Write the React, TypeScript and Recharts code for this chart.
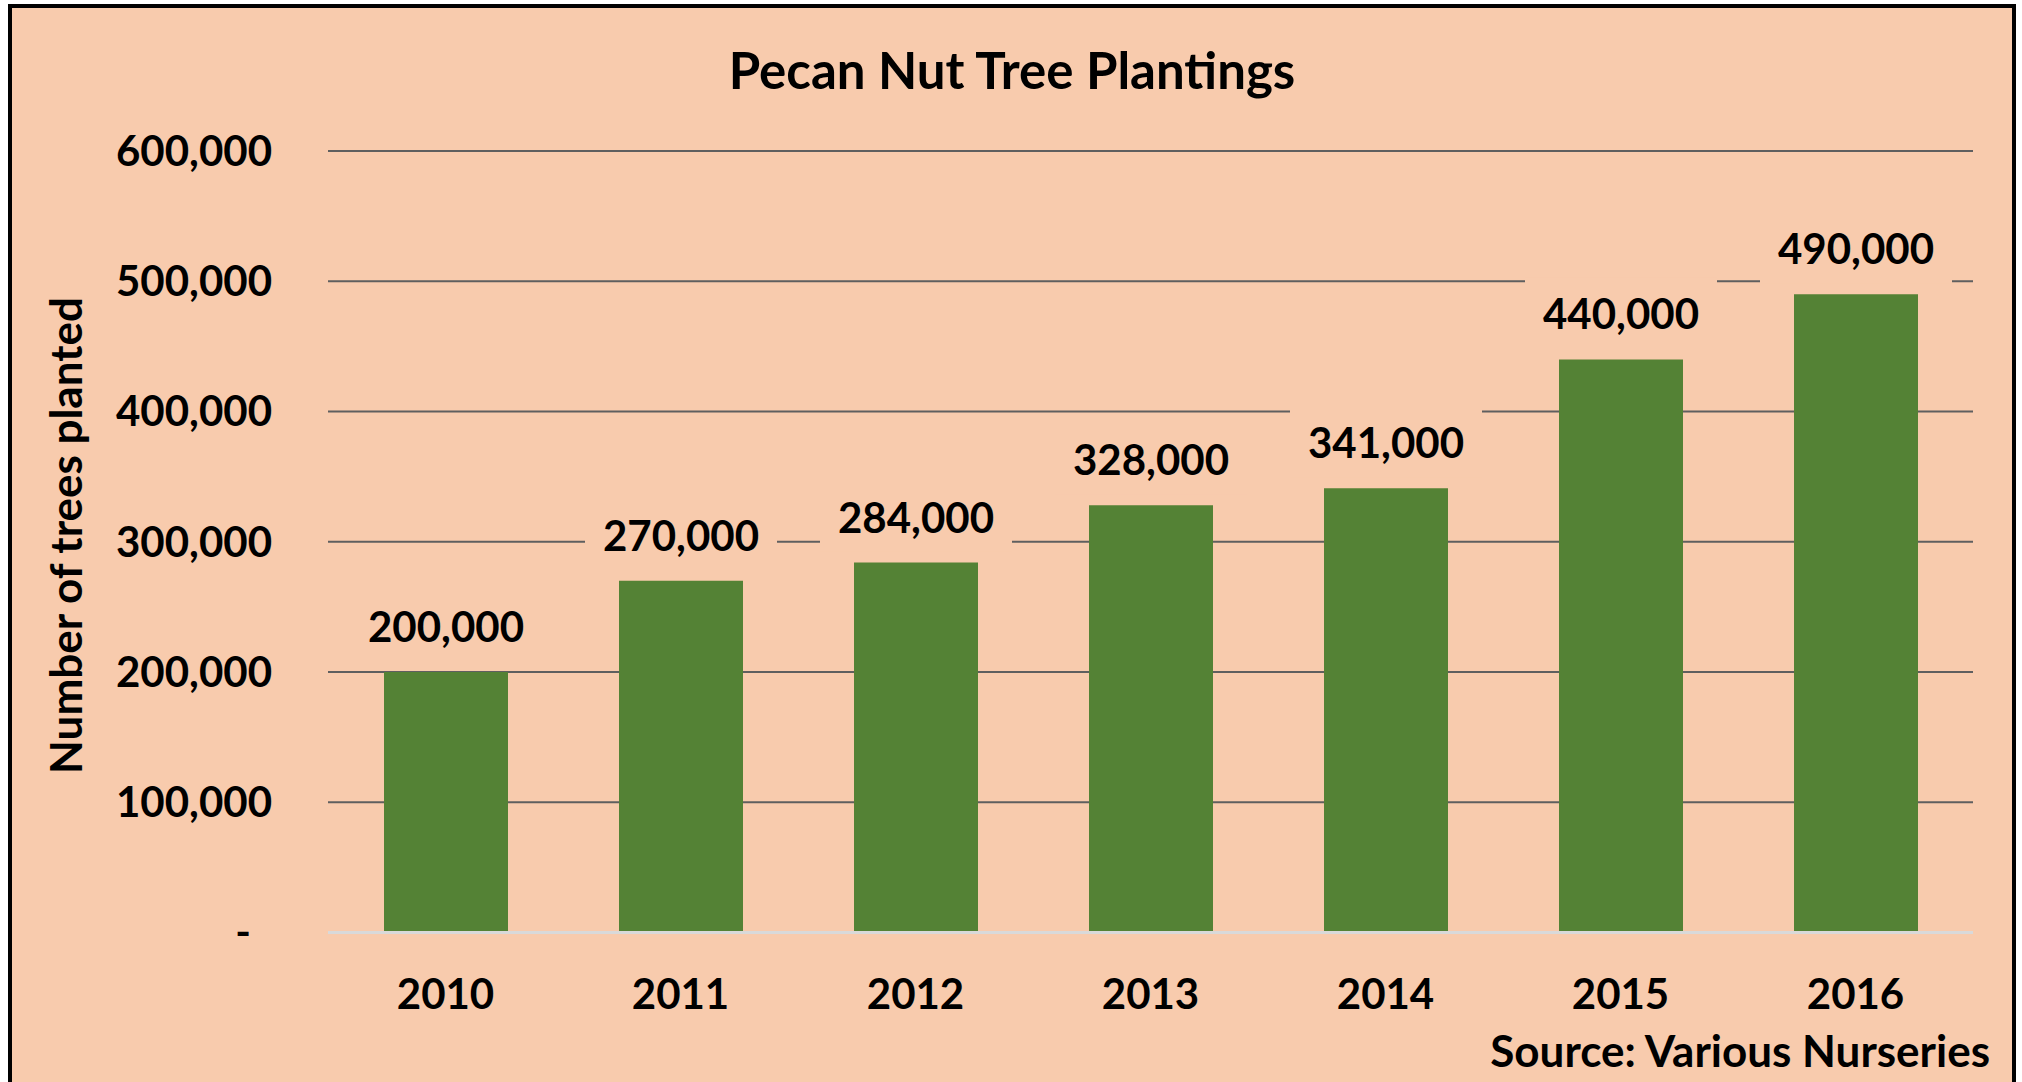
import { BarChart, Bar, XAxis, YAxis, CartesianGrid, LabelList } from 'recharts'

const years = ['2010', '2011', '2012', '2013', '2014', '2015', '2016']
const plantings = [200000, 270000, 284000, 328000, 341000, 440000, 490000]
const yTicks = [0, 100000, 200000, 300000, 400000, 500000, 600000]

const title = 'Pecan Nut Tree Plantings'
const yTitle = 'Number of trees planted'
const source = 'Source: Various Nurseries'

const data = years.map((year, i) => ({ year, trees: plantings[i] }))

const PEACH = '#F8CBAD'
const GREEN = '#548235'
const FONT = 'Lato, "Open Sans", sans-serif'

const fmt = (v: number) => (v === 0 ? '-' : v.toLocaleString('en-US'))

const YTick = (props: any) => {
  const { x, y, payload } = props
  const v = payload.value as number
  return (
    <text
      x={v === 0 ? x - 77 : x - 56}
      y={y}
      dy="0.355em"
      textAnchor="end"
      fontFamily={FONT}
      fontWeight={700}
      fontSize={42}
      fill="#000"
    >
      {fmt(v)}
    </text>
  )
}

const XTick = (props: any) => {
  const { x, y, payload } = props
  return (
    <text x={x} y={y + 76.5} textAnchor="middle" fontFamily={FONT} fontWeight={700} fontSize={42} fill="#000">
      {payload.value}
    </text>
  )
}

// label sits on a peach box that hides the gridline behind it
const BarLabel = (props: any) => {
  const { x, y, width, value } = props
  const cx = x + width / 2
  return (
    <g>
      <rect x={cx - 96} y={y - 82} width={192} height={71} fill={PEACH} />
      <text x={cx} y={y - 30} textAnchor="middle" fontFamily={FONT} fontWeight={700} fontSize={42} fill="#000">
        {fmt(Number(value))}
      </text>
    </g>
  )
}

export default function App() {
  return (
    <div style={{ position: 'absolute', left: 0, top: 0, width: 2022, height: 1082, background: '#fff', overflow: 'hidden' }}>
      <div
        style={{
          position: 'absolute', left: 8, top: 4, width: 2008, height: 1100,
          border: '4px solid #000', boxSizing: 'border-box', background: PEACH,
        }}
      />
      <div style={{ position: 'absolute', left: 0, top: 0 }}>
        <BarChart width={2022} height={1082} data={data} margin={{ top: 151, right: 49, bottom: 89.5, left: 0 }}>
          <CartesianGrid vertical={false} stroke="#5F5F5F" strokeWidth={2} />
          <XAxis
            dataKey="year"
            height={60}
            tick={<XTick />}
            tickLine={false}
            tickSize={0}
            tickMargin={0}
            axisLine={{ stroke: '#D9D9D9', strokeWidth: 3 }}
            interval={0}
          />
          <YAxis
            width={328}
            domain={[0, 600000]}
            ticks={yTicks}
            tick={<YTick />}
            tickLine={false}
            tickSize={0}
            tickMargin={0}
            axisLine={false}
            interval={0}
          />
          <Bar dataKey="trees" fill={GREEN} barSize={124} isAnimationActive={false}>
            <LabelList dataKey="trees" content={<BarLabel />} />
          </Bar>
        </BarChart>
      </div>
      <svg width={2022} height={1082} style={{ position: 'absolute', left: 0, top: 0, pointerEvents: 'none' }}>
        <text x={1012} y={89} textAnchor="middle" fontFamily={FONT} fontWeight={700} fontSize={51} fill="#000">
          {title}
        </text>
        <text
          transform="translate(82, 535.5) rotate(-90)"
          textAnchor="middle"
          fontFamily={FONT}
          fontWeight={700}
          fontSize={44}
          fill="#000"
        >
          {yTitle}
        </text>
        <text x={1990} y={1067} textAnchor="end" fontFamily={FONT} fontWeight={700} fontSize={44} fill="#000">
          {source}
        </text>
      </svg>
    </div>
  )
}
